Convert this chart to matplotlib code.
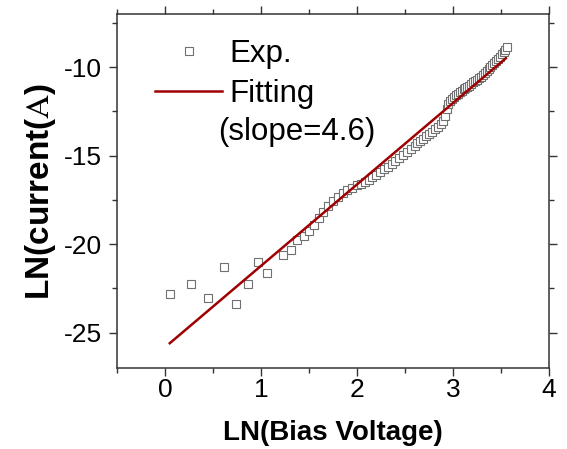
"""LN(I) vs LN(V) with power-law fit."""

import numpy as np
import matplotlib
matplotlib.use("Agg")
import matplotlib.pyplot as plt
from matplotlib.ticker import MultipleLocator

plt.rcParams["font.family"] = ["Liberation Sans", "DejaVu Sans"]
plt.rcParams["mathtext.fontset"] = "stix"
plt.rcParams["axes.unicode_minus"] = False

ln_v = [0.052, 0.27, 0.453, 0.611, 0.743, 0.863, 0.967, 1.064, 1.226, 1.31,
        1.38, 1.45, 1.50, 1.55, 1.60, 1.65, 1.70, 1.75, 1.80, 1.85, 1.90, 1.95,
        2.00, 2.04, 2.08, 2.12, 2.16, 2.20, 2.24, 2.28, 2.32, 2.36, 2.40, 2.44,
        2.48, 2.52, 2.56, 2.60, 2.63, 2.66, 2.69, 2.72, 2.75, 2.78, 2.81, 2.84,
        2.87, 2.90, 2.92, 2.935, 2.95, 2.97, 2.99, 3.01, 3.03, 3.05, 3.07, 3.09,
        3.11, 3.13, 3.15, 3.17, 3.19, 3.21, 3.23, 3.25, 3.27, 3.29, 3.31, 3.33,
        3.35, 3.37, 3.39, 3.41, 3.43, 3.45, 3.47, 3.49, 3.51, 3.53, 3.545, 3.56]
ln_i = [-22.81, -22.26, -23.03, -21.30, -23.39, -22.24, -21.01, -21.66, -20.60, -20.32,
        -19.75, -19.55, -19.25, -18.90, -18.55, -18.16, -17.86, -17.58, -17.33, -17.12, -16.94, -16.81,
        -16.68, -16.60, -16.48, -16.36, -16.21, -16.07, -15.93, -15.77, -15.62, -15.45, -15.29, -15.13,
        -14.96, -14.79, -14.60, -14.43, -14.30, -14.17, -14.06, -13.92, -13.78, -13.64, -13.50, -13.37,
        -13.21, -13.04, -12.75, -12.38, -12.06, -11.89, -11.78, -11.68, -11.59, -11.50, -11.41, -11.34,
        -11.26, -11.18, -11.12, -11.05, -10.96, -10.86, -10.79, -10.73, -10.64, -10.55, -10.45, -10.34,
        -10.24, -10.13, -10.02, -9.90, -9.78, -9.66, -9.54, -9.41, -9.28, -9.14, -9.02, -8.87]

# linear fit endpoints
fit_x = [0.05, 3.55]
fit_y = [-25.60, -9.50]

fig = plt.figure(figsize=(5.67, 4.49), dpi=100)
ax = fig.add_axes([0.2063, 0.1804, 0.762, 0.7884])

ax.plot(ln_v, ln_i, linestyle="none", marker="s", markersize=5.5,
        markerfacecolor="white", markeredgecolor="#707070", markeredgewidth=0.8,
        label="Exp.")
ax.plot(fit_x, fit_y, color="#a00000", linewidth=1.8, label="Fitting")

ax.set_xlim(-0.5, 4)
ax.set_ylim(-27, -7)
ax.xaxis.set_major_locator(MultipleLocator(1))
ax.xaxis.set_minor_locator(MultipleLocator(0.5))
ax.yaxis.set_major_locator(MultipleLocator(5))
ax.yaxis.set_minor_locator(MultipleLocator(2.5))
ax.tick_params(which="both", direction="out", top=True, right=True,
               labeltop=False, labelright=False, color="#333333", width=1.0)
ax.tick_params(which="major", length=6, labelsize=19, pad=5)
ax.tick_params(axis="x", which="major", pad=1)
ax.tick_params(which="minor", length=3.5)
for s in ax.spines.values():
    s.set_color("#333333")
    s.set_linewidth(1.1)

ax.set_xlabel("LN(Bias Voltage)", fontsize=20, fontweight="bold", labelpad=13)
ax.set_ylabel(r"LN(current($\mathrm{A}$)", fontsize=24, fontweight="bold", labelpad=4)

leg = ax.legend(loc="upper left", bbox_to_anchor=(0.088, 0.93), frameon=False,
                fontsize=22.5, handlelength=2.15, handletextpad=0.22,
                labelspacing=0.33, borderaxespad=0, borderpad=0)
ax.text(0.55, -13.65, "(slope=4.6)", fontsize=22.5, va="center", ha="left")

fig.savefig("out.png", dpi=100)
